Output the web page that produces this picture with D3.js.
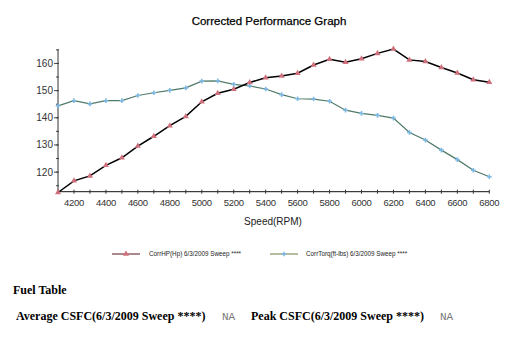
<!DOCTYPE html>
<html>
<head>
<meta charset="utf-8">
<script src="https://cdn.jsdelivr.net/npm/d3@7"></script>
<style>
  body { margin: 0; background: #fff; }
  svg { display: block; }
</style>
</head>
<body>
<div id="app"></div>
<script>
const rpm = [4100, 4200, 4300, 4400, 4500, 4600, 4700, 4800, 4900, 5000, 5100, 5200, 5300, 5400,
  5500, 5600, 5700, 5800, 5900, 6000, 6100, 6200, 6300, 6400, 6500, 6600, 6700, 6800]
const hp = [112.5, 116.8, 118.6, 122.5, 125.3, 129.6, 133.2, 137.1, 140.5, 145.9, 149.0, 150.5, 153.0, 154.7,
  155.4, 156.4, 159.4, 161.5, 160.4, 161.7, 163.7, 165.3, 161.3, 160.7, 158.5, 156.5, 154.0, 153.1]
const torque = [144.4, 146.3, 145.1, 146.3, 146.3, 148.2, 149.2, 150.1, 151.0, 153.5, 153.6, 152.3, 151.7, 150.6,
  148.5, 147.0, 146.9, 146.1, 142.8, 141.6, 140.9, 139.9, 134.6, 131.8, 128.1, 124.6, 120.7, 118.3]
const xTicks = [4200, 4400, 4600, 4800, 5000, 5200, 5400, 5600, 5800, 6000, 6200, 6400, 6600, 6800]
const yTicks = [120, 130, 140, 150, 160]
const legendLabels = ["CorrHP(Hp) 6/3/2009 Sweep ****", "CorrTorq(ft-lbs) 6/3/2009 Sweep ****"]

const W = 520, H = 342

const svg = d3.select("#app").append("svg")
  .attr("width", W)
  .attr("height", H)
  .style("font-family", "Arial, 'Liberation Sans', sans-serif")

const fx = d3.scaleLinear().domain([4100, 6800]).range([58, 489.3])
const fy = d3.scaleLinear().domain([112.8, 165.2]).range([191.7, 49.3])

// title
svg.append("text")
  .attr("x", 269).attr("y", 25)
  .attr("text-anchor", "middle")
  .attr("font-size", 11.5)
  .attr("fill", "#000")
  .attr("stroke", "#000")
  .attr("stroke-width", 0.25)
  .text("Corrected Performance Graph")

// y axis
const gy = svg.append("g").attr("transform", "translate(58,0)")
gy.append("line")
  .attr("y1", 49.3).attr("y2", 191.7)
  .attr("stroke", "#333")
gy.selectAll("line.minor")
  .data(d3.range(115, 166, 5))
  .join("line")
    .attr("class", "minor")
    .attr("x1", -2).attr("x2", 1)
    .attr("y1", d => fy(d)).attr("y2", d => fy(d))
    .attr("stroke", "#444")
gy.selectAll("line.major")
  .data(yTicks)
  .join("line")
    .attr("class", "major")
    .attr("x1", -4).attr("x2", 0)
    .attr("y1", d => fy(d)).attr("y2", d => fy(d))
    .attr("stroke", "#444")
gy.selectAll("text")
  .data(yTicks)
  .join("text")
    .attr("x", -5)
    .attr("y", d => fy(d) + 3.5)
    .attr("text-anchor", "end")
    .attr("font-size", 10)
    .attr("fill", "#333")
    .text(d => d)

// x axis
const gx = svg.append("g").attr("transform", "translate(0,191.7)")
gx.append("line")
  .attr("x1", 58).attr("x2", 489.3)
  .attr("stroke", "#111")
gx.selectAll("line.tick")
  .data(rpm)
  .join("line")
    .attr("class", "tick")
    .attr("x1", d => fx(d)).attr("x2", d => fx(d))
    .attr("y1", -2).attr("y2", 2)
    .attr("stroke", "#333")
gx.selectAll("text")
  .data(xTicks)
  .join("text")
    .attr("x", d => fx(d))
    .attr("y", 14)
    .attr("text-anchor", "middle")
    .attr("font-size", 9.5)
    .attr("letter-spacing", "-0.3")
    .attr("fill", "#333")
    .text(d => d)

svg.append("text")
  .attr("x", 273).attr("y", 225)
  .attr("text-anchor", "middle")
  .attr("font-size", 10)
  .attr("fill", "#222")
  .text("Speed(RPM)")

// series
const line = d3.line().x(d => fx(d[0])).y(d => fy(d[1]))
const hpData = rpm.map((r, i) => [r, hp[i]])
const tqData = rpm.map((r, i) => [r, torque[i]])

const tri = d3.symbol().type(d3.symbolTriangle).size(16)
const star = d3.symbol().type(d3.symbolCross).size(12)

svg.append("path")
  .datum(tqData)
  .attr("d", line)
  .attr("fill", "none")
  .attr("stroke", "#4f7a68")
  .attr("stroke-width", 1.2)
svg.append("g").selectAll("path")
  .data(tqData)
  .join("path")
    .attr("transform", d => `translate(${fx(d[0])},${fy(d[1])})`)
    .attr("d", star)
    .attr("fill", "#7cb8e4")

svg.append("path")
  .datum(hpData)
  .attr("d", line)
  .attr("fill", "none")
  .attr("stroke", "#000")
  .attr("stroke-width", 1.5)
svg.append("g").selectAll("path")
  .data(hpData)
  .join("path")
    .attr("transform", d => `translate(${fx(d[0])},${fy(d[1])})`)
    .attr("d", tri)
    .attr("fill", "#d0707c")

// legend
const legend = svg.append("g").attr("transform", "translate(0,254)")
const lg = [
  { x: 112, color: "#5a1018", mark: tri, fill: "#d0707c", tx: 149 },
  { x: 270, color: "#6a7a40", mark: star, fill: "#7cb8e4", tx: 306 }
]
lg.forEach((d, i) => {
  legend.append("line")
    .attr("x1", d.x).attr("x2", d.x + 28)
    .attr("stroke", d.color).attr("stroke-width", 1)
  legend.append("path")
    .attr("transform", `translate(${d.x + 14},0)`)
    .attr("d", d.mark)
    .attr("fill", d.fill)
  legend.append("text")
    .attr("x", d.tx).attr("y", 2.2)
    .attr("font-size", 6.3)
    .attr("fill", "#222")
    .text(legendLabels[i])
})

// fuel table
const serif = "'Times New Roman', 'Liberation Serif', serif"
svg.append("text")
  .attr("x", 13).attr("y", 294)
  .attr("font-family", serif)
  .attr("font-weight", "bold")
  .attr("font-size", 12)
  .text("Fuel Table")
const row = svg.append("g").attr("transform", "translate(0,320)")
row.append("text").attr("x", 16)
  .attr("font-family", serif).attr("font-weight", "bold").attr("font-size", 12)
  .text("Average CSFC(6/3/2009 Sweep ****)")
row.append("text").attr("x", 222)
  .attr("font-family", "'Liberation Mono', monospace").attr("font-size", 11).attr("fill", "#777")
  .text("NA")
row.append("text").attr("x", 251)
  .attr("font-family", serif).attr("font-weight", "bold").attr("font-size", 12)
  .text("Peak CSFC(6/3/2009 Sweep ****)")
row.append("text").attr("x", 440)
  .attr("font-family", "'Liberation Mono', monospace").attr("font-size", 11).attr("fill", "#777")
  .text("NA")
</script>
</body>
</html>
